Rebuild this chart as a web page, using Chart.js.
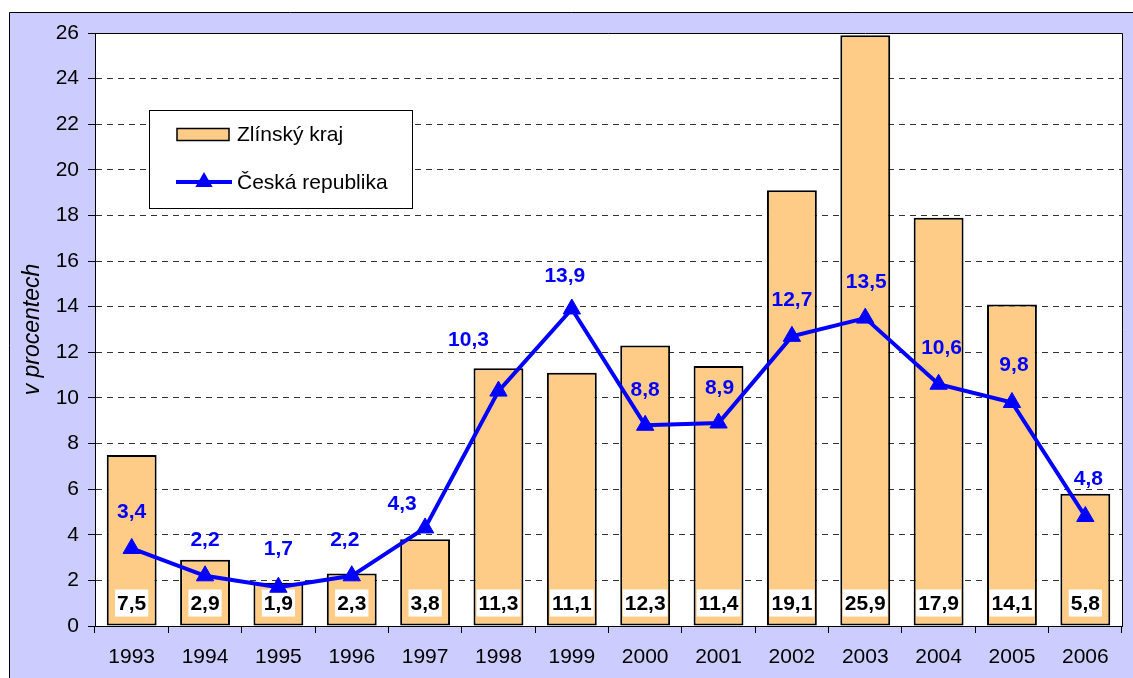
<!DOCTYPE html>
<html><head><meta charset="utf-8">
<script src="https://cdn.jsdelivr.net/npm/chart.js@4"></script>
<style>html,body{margin:0;padding:0;background:#fff}canvas{display:block}</style>
</head><body>
<canvas id="c" width="1133" height="678"></canvas>
<script>
// ---- data ----
const years = ['1993','1994','1995','1996','1997','1998','1999','2000','2001','2002','2003','2004','2005','2006'];
const zlinskyKraj = [7.5, 2.9, 1.9, 2.3, 3.8, 11.3, 11.1, 12.3, 11.4, 19.1, 25.9, 17.9, 14.1, 5.8];
const ceskaRepublika = [3.4, 2.2, 1.7, 2.2, 4.3, 10.3, 13.9, 8.8, 8.9, 12.7, 13.5, 10.6, 9.8, 4.8];
const seriesNames = ['Zlínský kraj', 'Česká republika'];
const axisTitle = 'v procentech';
const yMin = 0, yMax = 26, yStep = 2;

// ---- style ----
const FONT = "'Liberation Sans', Arial, sans-serif";
const BAR_FILL = '#FFCC88';
const BLUE = '#0000FF';
const BG = '#CCCCFF';
// label placement tweaks (pixels) for line value labels
const lineLabelOffsets = [[0,-36],[0,-36],[0,-38],[-7,-36],[-23,-24],[-30,-51],[-7,-33],[0,-35],[1,-35],[0,-36],[1,-36],[3,-36],[2,-37],[3,-37]];

const fmt = v => v.toFixed(1).replace('.', ',');

function triangle(ctx, x, y, r) {
  ctx.beginPath();
  ctx.moveTo(x, y - r);
  ctx.lineTo(x + r * Math.sin(2*Math.PI/3), y + r * 0.5);
  ctx.lineTo(x - r * Math.sin(2*Math.PI/3), y + r * 0.5);
  ctx.closePath();
  ctx.fill();
}

const decor = {
  id: 'decor',
  beforeDraw(chart) {
    const ctx = chart.ctx, a = chart.chartArea;
    ctx.save();
    ctx.fillStyle = '#fff';
    ctx.fillRect(0, 0, chart.width, chart.height);
    ctx.fillStyle = BG;
    ctx.fillRect(9, 12, chart.width - 9, chart.height - 12);
    ctx.strokeStyle = '#000';
    ctx.lineWidth = 1;
    ctx.beginPath();
    ctx.moveTo(9.5, chart.height);
    ctx.lineTo(9.5, 12.5);
    ctx.lineTo(chart.width, 12.5);
    ctx.stroke();
    ctx.fillStyle = '#fff';
    ctx.fillRect(a.left, a.top, a.right - a.left, a.bottom - a.top);
    ctx.restore();
  },
  beforeDatasetsDraw(chart) {
    const ctx = chart.ctx, a = chart.chartArea;
    ctx.save();
    ctx.strokeStyle = '#000';
    ctx.lineWidth = 1;
    ctx.beginPath();
    ctx.moveTo(a.left, Math.round(a.top) + 0.5);
    ctx.lineTo(Math.round(a.right) + 0.5, Math.round(a.top) + 0.5);
    ctx.lineTo(Math.round(a.right) + 0.5, a.bottom);
    ctx.stroke();
    ctx.restore();
  },
  afterDatasetDraw(chart, args) {
    if (chart.data.datasets[args.index].type !== 'bar') return;
    const ctx = chart.ctx, a = chart.chartArea;
    const meta = args.meta;
    ctx.save();
    ctx.font = "bold 21px " + FONT;
    ctx.textAlign = 'center';
    ctx.textBaseline = 'middle';
    meta.data.forEach((el, i) => {
      const t = fmt(chart.data.datasets[args.index].data[i]);
      const w = ctx.measureText(t).width + 4;
      const cy = a.bottom - 23;
      ctx.fillStyle = '#fff';
      ctx.fillRect(el.x - w/2, cy - 13.5, w, 27);
      ctx.fillStyle = '#000';
      ctx.fillText(t, el.x, cy + 1);
    });
    ctx.restore();
  },
  afterDatasetsDraw(chart) {
    const ctx = chart.ctx;
    const idx = chart.data.datasets.findIndex(d => d.type === 'line');
    const meta = chart.getDatasetMeta(idx);
    ctx.save();
    ctx.font = "bold 21px " + FONT;
    ctx.textAlign = 'center';
    ctx.textBaseline = 'middle';
    ctx.fillStyle = BLUE;
    meta.data.forEach((el, i) => {
      const o = lineLabelOffsets[i] || [0, -36];
      ctx.fillText(fmt(chart.data.datasets[idx].data[i]), el.x + o[0], el.y + o[1]);
    });
    ctx.restore();
  },
  afterDraw(chart) {
    const ctx = chart.ctx;
    ctx.save();
    // legend box
    ctx.fillStyle = '#fff';
    ctx.fillRect(149.5, 110.5, 263, 98);
    ctx.strokeStyle = '#000';
    ctx.lineWidth = 1;
    ctx.strokeRect(149.5, 110.5, 263, 98);
    // bar swatch
    ctx.fillStyle = BAR_FILL;
    ctx.fillRect(177, 128.5, 52, 12);
    ctx.lineWidth = 1.5;
    ctx.strokeRect(177, 128.5, 52, 12);
    // line swatch
    ctx.strokeStyle = BLUE;
    ctx.lineWidth = 4;
    ctx.beginPath();
    ctx.moveTo(176, 182);
    ctx.lineTo(232, 182);
    ctx.stroke();
    ctx.fillStyle = BLUE;
    triangle(ctx, 204, 182, 10);
    // texts
    ctx.fillStyle = '#000';
    ctx.font = "21px " + FONT;
    ctx.textAlign = 'left';
    ctx.textBaseline = 'middle';
    ctx.fillText(seriesNames[0], 237, 135);
    ctx.fillText(seriesNames[1], 237, 183);
    ctx.restore();
  }
};

new Chart(document.getElementById('c'), {
  data: {
    labels: years,
    datasets: [
      {
        type: 'line',
        label: seriesNames[1],
        data: ceskaRepublika,
        borderColor: BLUE,
        backgroundColor: BLUE,
        borderWidth: 4,
        pointStyle: 'triangle',
        pointRadius: 10,
        pointHoverRadius: 10,
        pointBorderWidth: 1,
        pointBackgroundColor: BLUE,
        pointBorderColor: BLUE,
        tension: 0,
        order: 0
      },
      {
        type: 'bar',
        label: seriesNames[0],
        data: zlinskyKraj,
        backgroundColor: BAR_FILL,
        borderColor: '#000',
        borderWidth: 2,
        borderSkipped: false,
        barPercentage: 0.68,
        categoryPercentage: 1,
        order: 1
      }
    ]
  },
  options: {
    responsive: false,
    animation: false,
    devicePixelRatio: 1,
    layout: { padding: { top: 33, right: 6, left: 0, bottom: 0 } },
    plugins: { legend: { display: false }, tooltip: { enabled: false } },
    events: [],
    scales: {
      x: {
        offset: true,
        grid: { display: true, drawOnChartArea: false, offset: true, tickLength: 7, color: '#000', lineWidth: 1 },
        border: { display: true, color: '#000', width: 1 },
        ticks: { color: '#000', font: { family: FONT, size: 21 }, padding: 12, maxRotation: 0, autoSkip: false },
        afterFit(s) { s.height = 52; }
      },
      y: {
        min: yMin, max: yMax,
        ticks: { stepSize: yStep, color: '#000', font: { family: FONT, size: 21 }, padding: 9 },
        grid: { color: '#333', lineWidth: 1, tickLength: 7, tickColor: '#000' },
        border: { display: true, color: '#000', width: 1, dash: [6, 5] },
        title: { display: true, text: axisTitle, color: '#000', font: { family: FONT, size: 23, style: 'italic' }, padding: { top: 19, bottom: 0 } },
        afterFit(s) { s.width = 95; }
      }
    }
  },
  plugins: [decor]
});
</script>
</body></html>
